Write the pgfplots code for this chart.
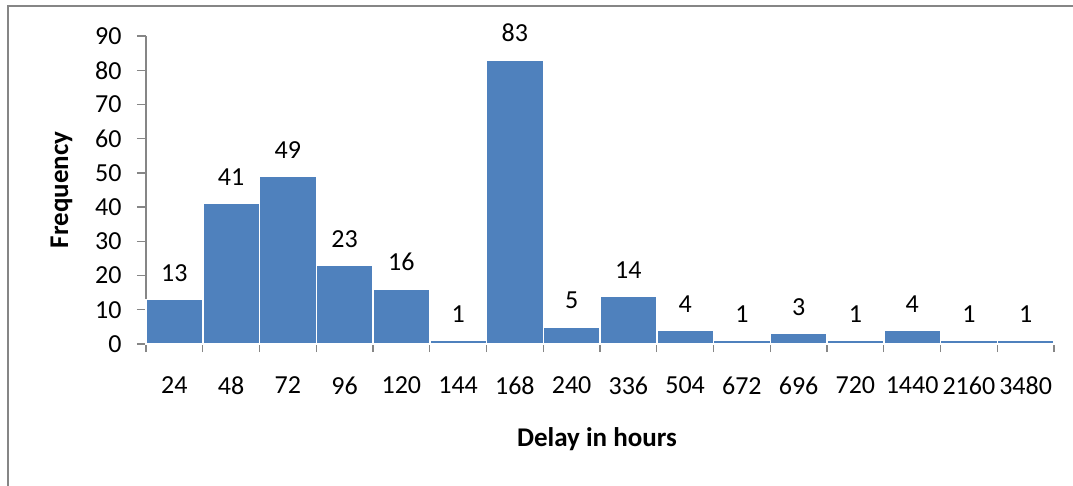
\documentclass[border=0pt]{standalone}
\usepackage{fontspec}
\setmainfont{Carlito}
\usepackage{pgfplots}
\pgfplotsset{compat=1.18}
\definecolor{barblue}{HTML}{4F81BD}
\definecolor{axgray}{HTML}{868686}
\begin{document}
\begin{tikzpicture}
\path[use as bounding box] (0,0) rectangle (1073pt,485pt);
\draw[axgray, line width=2.5pt] (8pt,-5pt) -- (8pt,479pt) -- (1080pt,479pt);
\begin{axis}[
  at={(146pt,141pt)}, anchor=south west,
  scale only axis, width=908pt, height=308pt,
  ybar, bar width=1, bar shift=0pt,
  xmin=-0.5, xmax=15.5, ymin=0, ymax=90,
  ytick={0,10,...,90},
  xtick={0,...,15},
  xticklabels={24,48,72,96,120,144,168,240,336,504,672,696,720,1440,2160,3480},
  minor xtick={-0.5,0.5,...,15.5},
  axis x line=bottom, axis y line=left,
  axis line style={-, draw=axgray, line width=1.3pt},
  tick style={draw=axgray, line width=1.3pt},
  major x tick style={draw=none},
  tick align=outside,
  major tick length=9pt, minor tick length=8pt,
  /pgf/number format/assume math mode=true,
  ticklabel style={font=\fontsize{26}{30}\selectfont},
  xticklabel style={yshift=-20pt},
  yticklabel style={xshift=-12pt},
  xlabel={\textbf{Delay in hours}},
  ylabel={\textbf{Frequency}},
  label style={font=\fontsize{27}{31}\selectfont},
  xlabel style={at={(axis description cs:0.5,-0.31)}, anchor=center, xshift=-3pt},
  ylabel style={at={(axis description cs:-0.093,0.5)}, anchor=center, rotate=0},
  nodes near coords,
  nodes near coords style={font=\fontsize{26}{30}\selectfont, yshift=14pt},
  clip=false,
]
\addplot[fill=barblue, draw=white, line width=1.5pt] coordinates {
(0,13) (1,41) (2,49) (3,23) (4,16) (5,1) (6,83) (7,5)
(8,14) (9,4) (10,1) (11,3) (12,1) (13,4) (14,1) (15,1)
};
\end{axis}
\end{tikzpicture}
\end{document}
